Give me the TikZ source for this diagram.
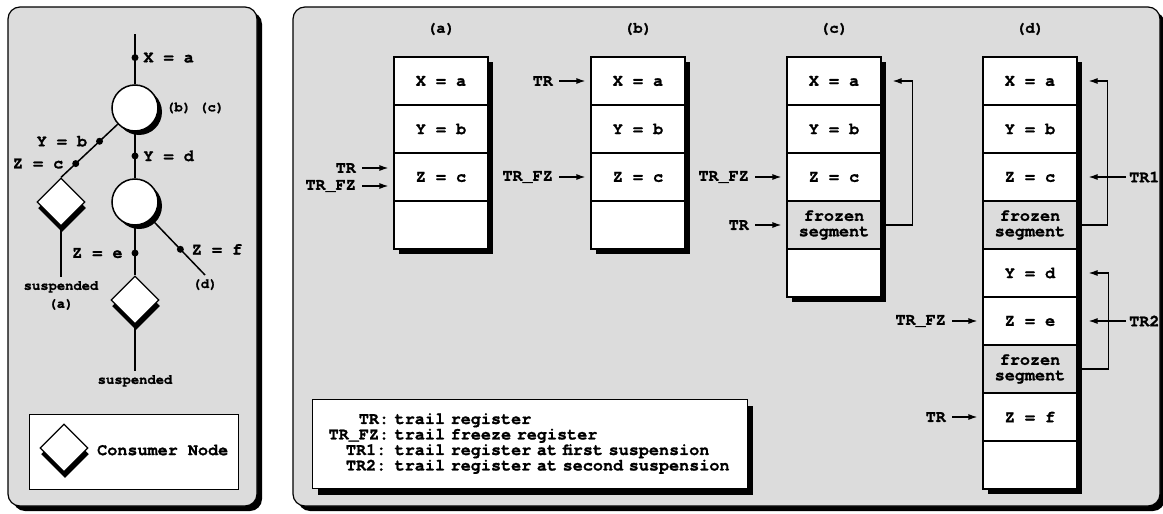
\documentclass[tikz,border=0pt]{standalone}
\usepackage{fontspec}
\setmonofont{TeX Gyre Cursor}[BoldFeatures={FakeBold=1.2}]
\usetikzlibrary{shapes.geometric,arrows.meta,shadows,positioning}
\definecolor{panelgray}{RGB}{220,220,220}
\newcommand\bigtt{\ttfamily\bfseries\fontsize{16.8}{15.5}\selectfont}
\newcommand\midtt{\ttfamily\bfseries\fontsize{15.5}{15}\selectfont}
\newcommand\smalltt{\ttfamily\bfseries\fontsize{13.8}{14}\selectfont}

\tikzset{
  panel/.style={draw, line width=1.2pt, fill=panelgray, rounded corners=12pt,
    drop shadow={shadow xshift=5pt, shadow yshift=-5pt, opacity=1, fill=black}},
  cell/.style={draw, fill=white, line width=1.2pt, minimum width=94pt,
    minimum height=48pt, inner sep=0pt, font=\bigtt, align=center},
  frozen/.style={cell, fill=panelgray},
  title/.style={font=\midtt, inner sep=0pt},
  lbl/.style={font=\bigtt, inner sep=0pt},
  small/.style={font=\smalltt, inner sep=0pt},
  circ/.style={circle, draw, fill=white, line width=1.5pt, minimum size=46pt,
    inner sep=0pt, drop shadow={shadow xshift=4pt, shadow yshift=-4pt, opacity=1, fill=black}},
  consumer/.style={diamond, draw, fill=white, line width=1.2pt, minimum width=48pt,
    minimum height=48pt, inner sep=0pt,
    drop shadow={shadow xshift=1pt, shadow yshift=-6pt, opacity=1, fill=black}},
  dot/.style={circle, fill, inner sep=0pt, minimum size=7pt},
  branch/.style={line width=1.5pt},
  ptr/.style={->, line width=1.2pt},
  keybox/.style={draw, fill=white, line width=1.2pt},
}

\begin{document}
\begin{tikzpicture}[x=1pt, y=-1pt, >={Latex[length=9pt,width=6pt]}]
  \useasboundingbox (0,0) rectangle (1163,514);

  % Panels
  \path[panel] (8,7) rectangle (257,506);
  \path[panel] (293,7) rectangle (1160,506);

  % Left: search tree
  \coordinate (top) at (135,34);
  \node[circ] (c1) at (135,108) {};
  \node[circ] (c2) at (135,202) {};
  \node[consumer] (d1) at (61,202) {};
  \node[consumer] (d2) at (135,300) {};
  \coordinate (s1) at (61,277);
  \coordinate (s2) at (135,371);
  \coordinate (f) at (205,275);

  \draw[branch] (top) -- (c1) node[dot, pos=.47] (xa) {};
  \draw[branch] (c1) -- (c2) node[dot, pos=.52] (yd) {};
  \draw[branch] (c1) -- (d1.north) node[dot, pos=.32] (yb) {} node[dot, pos=.74] (zc) {};
  \draw[branch] (c2) -- (d2) node[dot, pos=.55] (ze) {};
  \draw[branch] (c2) -- (f) node[dot, pos=.54] (zf) {};
  \draw[branch] (d1) -- (s1);
  \draw[branch] (d2) -- (s2);

  \node[lbl, right=4pt of xa] (xal) {X = a};
  \node[lbl, right=4pt of yd] (ydl) {Y = d};
  \node[lbl, left=8pt of yb] (ybl) {Y = b};
  \node[lbl, left=8pt of zc] (zcl) {Z = c};
  \node[lbl, left=8pt of ze] (zel) {Z = e};
  \node[lbl, right=7pt of zf] (zfl) {Z = f};
  \node[small, anchor=west] (bc) at (166,108) {(b) (c)};
  \node[small, below=4pt of s1] (sus1) {suspended};
  \node[small, below=6pt of sus1] (sa) {(a)};
  \node[small, below=4pt of f] (sd) {(d)};
  \node[small, below=4pt of s2] (sus2) {suspended};

  % Consumer node key
  \node[keybox, anchor=north west, minimum width=209pt, minimum height=75pt] (ckey) at (29,414) {};
  \node[consumer] (ckeyd) at (64,448) {};
  \node[lbl, anchor=west] (ckeyt) at (97,450) {Consumer Node};

  % (a)
  \node[title] (ta) at (441,29) {(a)};
  \fill (399,62) rectangle (493,254);
  \foreach \txt [count=\i] in {X = a, Y = b, Z = c, {}}
    \node[cell] (a\i) at (441,33+48*\i) {\txt};
  \node[lbl, anchor=east] (aTR) at (356,168) {TR};
  \node[lbl, anchor=east] (aFZ) at (356,186) {TR\_FZ};
  \draw[ptr, shorten <=6pt, shorten >=5pt] (aTR) -- (aTR -| a3.west);
  \draw[ptr, shorten <=6pt, shorten >=5pt] (aFZ) -- (aFZ -| a3.west);

  % (b)
  \node[title] (tb) at (638,29) {(b)};
  \fill (596,62) rectangle (690,254);
  \foreach \txt [count=\i] in {X = a, Y = b, Z = c, {}}
    \node[cell] (b\i) at (638,33+48*\i) {\txt};
  \node[lbl, anchor=east] (bTR) at (553,81) {TR};
  \node[lbl, anchor=east] (bFZ) at (553,177) {TR\_FZ};
  \draw[ptr, shorten <=6pt, shorten >=5pt] (bTR) -- (b1);
  \draw[ptr, shorten <=6pt, shorten >=5pt] (bFZ) -- (b3);

  % (c)
  \node[title] (tc) at (834,29) {(c)};
  \fill (792,62) rectangle (886,302);
  \foreach \txt/\kind [count=\i] in {X = a/cell, Y = b/cell, Z = c/cell, frozen\\segment/frozen, /cell}
    \node[\kind] (c\i) at (834,33+48*\i) {\txt};
  \node[lbl, anchor=east] (cFZ) at (749,177) {TR\_FZ};
  \node[lbl, anchor=east] (cTR) at (749,225) {TR};
  \draw[ptr, shorten <=6pt, shorten >=5pt] (cFZ) -- (c3);
  \draw[ptr, shorten <=6pt, shorten >=5pt] (cTR) -- (c4);
  \draw[ptr] (c4.east) -- ++(31,0) |- ([xshift=11pt]c1.east);

  % (d)
  \node[title] (td) at (1030,29) {(d)};
  \fill (988,62) rectangle (1082,494);
  \foreach \txt/\kind [count=\i] in {X = a/cell, Y = b/cell, Z = c/cell, frozen\\segment/frozen,
      Y = d/cell, Z = e/cell, frozen\\segment/frozen, Z = f/cell, /cell}
    \node[\kind] (d\i) at (1030,33+48*\i) {\txt};
  \node[lbl, anchor=east] (dFZ) at (946,321) {TR\_FZ};
  \node[lbl, anchor=east] (dTR) at (946,417) {TR};
  \draw[ptr, shorten <=6pt, shorten >=5pt] (dFZ) -- (d6);
  \draw[ptr, shorten <=6pt, shorten >=5pt] (dTR) -- (d8);
  \draw[ptr] (d4.east) -- ++(30,0) |- ([xshift=11pt]d1.east);
  \draw[ptr] (d7.east) -- ++(31,0) |- ([xshift=11pt]d5.east);
  \node[lbl, anchor=west] (dTR1) at (1129,177) {TR1};
  \node[lbl, anchor=west] (dTR2) at (1129,321) {TR2};
  \draw[ptr, shorten <=3pt, shorten >=11pt] (dTR1) -- (dTR1 -| d3.east);
  \draw[ptr, shorten <=3pt, shorten >=11pt] (dTR2) -- (dTR2 -| d6.east);

  % Register key
  \node[keybox, drop shadow={shadow xshift=5pt, shadow yshift=-6pt, opacity=1, fill=black},
    anchor=north west, text width=403pt, inner xsep=16pt, minimum height=89pt,
    font=\bigtt, align=left] (rkey) at (312,399) {%
    \begin{tabular}{@{}r@{ }l@{}}
      TR:     & trail register\\
      TR\_FZ: & trail freeze register\\
      TR1:    & trail register at first suspension\\
      TR2:    & trail register at second suspension
    \end{tabular}};
\end{tikzpicture}
\end{document}
